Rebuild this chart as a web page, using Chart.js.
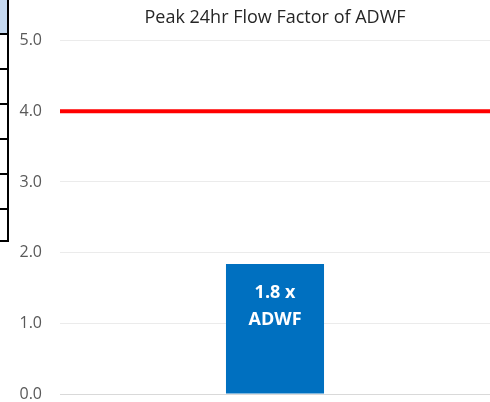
<!DOCTYPE html>
<html>
<head>
<meta charset="utf-8">
<script src="https://cdn.jsdelivr.net/npm/chart.js@4/dist/chart.umd.min.js"></script>
<style>
  html, body { margin: 0; padding: 0; background: #fff; overflow: hidden; }
  #wrap { position: relative; width: 490px; height: 402px; }
  #chart { display: block; width: 490px; height: 402px; }
  /* edge of a neighbouring table that got caught in the screenshot */
  #edge { position: absolute; left: 0; top: 0; width: 7px; height: 240px;
          border-right: 2px solid #000; border-bottom: 2px solid #000; }
  #edge div { height: 33px; border-bottom: 2px solid #000; }
  #edge div:first-child { background: #c5d9f1; }
</style>
</head>
<body>
<div id="wrap">
  <canvas id="chart" width="490" height="402"></canvas>
  <div id="edge"><div></div><div></div><div></div><div></div><div></div><div></div></div>
</div>
<script>
const categories = ["Peak 24hr Flow"];
const peakFactor = [1.84];
const barLabel = ["1.8 x", "ADWF"];
const limitValue = 4.0;
const yTicks = [0, 1, 2, 3, 4, 5];

// red limit line across the plot + value label inside the bar
const extras = {
  id: "extras",
  afterDatasetsDraw(chart) {
    const ctx = chart.ctx;
    const area = chart.chartArea;
    const y = chart.scales.y.getPixelForValue(limitValue);
    ctx.save();
    ctx.strokeStyle = "#ff0000";
    ctx.lineWidth = 4;
    ctx.beginPath();
    ctx.moveTo(area.left, y);
    ctx.lineTo(area.right, y);
    ctx.stroke();

    const bar = chart.getDatasetMeta(0).data[0];
    ctx.fillStyle = "#ffffff";
    ctx.font = "bold 18px 'Open Sans'";
    ctx.textAlign = "center";
    ctx.textBaseline = "middle";
    barLabel.forEach((t, i) => ctx.fillText(t, bar.x, bar.y + 29 + i * 27));
    ctx.restore();
  }
};

new Chart(document.getElementById("chart"), {
  type: "bar",
  data: {
    labels: categories,
    datasets: [{
      data: peakFactor,
      backgroundColor: "#0070c0",
      barPercentage: 1,
      categoryPercentage: 0.228
    }]
  },
  options: {
    responsive: false,
    maintainAspectRatio: false,
    animation: false,
    layout: { padding: 0 },
    plugins: {
      legend: { display: false },
      tooltip: { enabled: false },
      title: {
        display: true,
        fullSize: false,
        text: "Peak 24hr Flow Factor of ADWF",
        color: "#262626",
        font: { family: "'Open Sans'", size: 18, weight: "normal" },
        padding: { top: 7, bottom: 12 }
      }
    },
    scales: {
      x: { display: false },
      y: {
        min: 0,
        max: 5,
        afterFit(scale) {
          scale.width = 60;
          scale.paddingTop = 0;
          scale.paddingBottom = 8;
        },
        afterBuildTicks(scale) { scale.ticks = yTicks.map(v => ({value: v})); },
        border: { display: false },
        grid: {
          drawTicks: false,
          color: c => c.tick.value === 0 ? "#d9d9d9" : "#ebebeb"
        },
        ticks: {
          padding: 18,
          color: "#595959",
          font: { family: "'Open Sans'", size: 16 },
          callback: v => v.toFixed(1)
        }
      }
    }
  },
  plugins: [extras]
});
</script>
</body>
</html>
